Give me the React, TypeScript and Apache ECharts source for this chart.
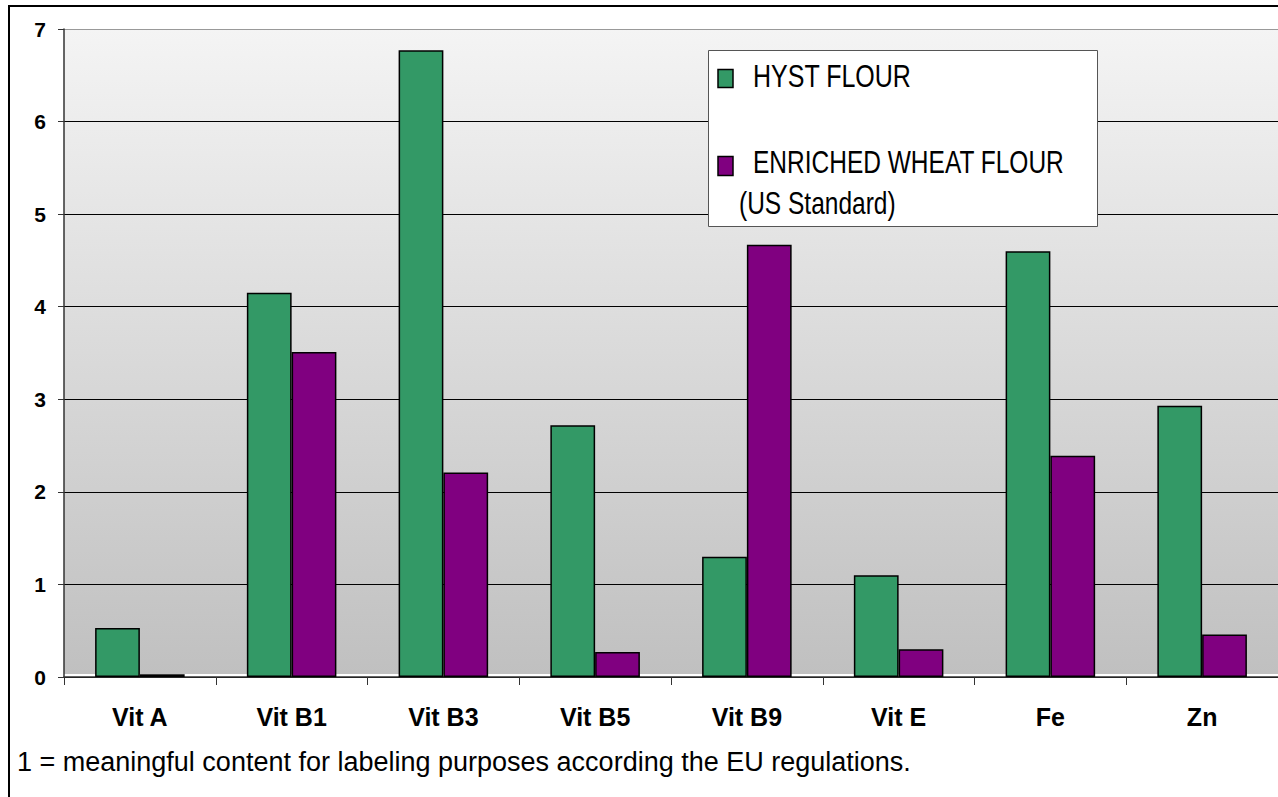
import React, { useEffect, useRef } from "react";
import * as echarts from "echarts";

const categories = ["Vit A", "Vit B1", "Vit B3", "Vit B5", "Vit B9", "Vit E", "Fe", "Zn"];
const hystFlour = [0.53, 4.15, 6.77, 2.72, 1.3, 1.1, 4.6, 2.93];
const enrichedWheat = [0.03, 3.51, 2.21, 0.27, 4.67, 0.3, 2.39, 0.46];
const yTicks = [0, 1, 2, 3, 4, 5, 6, 7];
const seriesNames = ["HYST FLOUR", "ENRICHED WHEAT FLOUR"];
const legendSubtitle = "(US Standard)";
const footnote = "1 = meaningful content for labeling purposes according the EU regulations.";

const GREEN = "#339966";
const PURPLE = "#800080";
const FONT = "'Liberation Sans', Arial, sans-serif";

export default function App() {
  const ref = useRef<HTMLDivElement>(null);
  useEffect(() => {
    if (!ref.current) return;
    const chart = echarts.init(ref.current, null, { renderer: "svg" });
    const yMax = yTicks[yTicks.length - 1];
    chart.setOption({
      animation: false,
      backgroundColor: "#ffffff",
      textStyle: { fontFamily: FONT },
      grid: {
        left: 64,
        right: -5,
        top: 29,
        bottom: 120,
        show: true,
        borderWidth: 0,
        backgroundColor: new echarts.graphic.LinearGradient(0, 0, 0, 1, [
          { offset: 0, color: "#f4f4f4" },
          { offset: 0.995, color: "#c0c0c0" },
          { offset: 0.996, color: "#ffffff" },
          { offset: 1, color: "#ffffff" },
        ]),
      },
      xAxis: {
        type: "category",
        data: categories,
        boundaryGap: true,
        axisLine: { show: true, lineStyle: { color: "#333", width: 1.5 } },
        axisTick: { show: true, length: 8, inside: false, lineStyle: { color: "#333" } },
        axisLabel: {
          color: "#000",
          fontWeight: "bold",
          fontSize: 25,
          fontFamily: FONT,
          margin: 27,
        },
        splitLine: { show: false },
      },
      yAxis: {
        type: "value",
        min: 0,
        max: yMax,
        interval: 1,
        axisLine: { show: true, lineStyle: { color: "#333", width: 1.5 } },
        axisTick: { show: true, length: 6, lineStyle: { color: "#333" } },
        axisLabel: {
          color: "#000",
          fontWeight: "bold",
          fontSize: 21,
          fontFamily: FONT,
          margin: 18,
        },
        splitLine: {
          show: true,
          lineStyle: {
            color: ["#000", "#000", "#000", "#000", "#000", "#000", "#000", "#999"],
            width: 1,
          },
        },
      },
      series: [
        {
          name: seriesNames[0],
          type: "bar",
          data: hystFlour,
          barGap: "0%",
          barCategoryGap: "41%",
          itemStyle: { color: GREEN, borderColor: "#000", borderWidth: 1.5 },
        },
        {
          name: seriesNames[1],
          type: "bar",
          data: enrichedWheat,
          barGap: "0%",
          barCategoryGap: "41%",
          itemStyle: { color: PURPLE, borderColor: "#000", borderWidth: 1.5 },
        },
      ],
      graphic: [
        {
          type: "rect",
          shape: { x: 9, y: 6, width: 1400, height: 1000 },
          style: { fill: "none", stroke: "#000", lineWidth: 2 },
          silent: true,
          z: 100,
        },
        {
          type: "rect",
          shape: { x: 708.5, y: 50.5, width: 389, height: 176 },
          style: { fill: "#fff", stroke: "#555", lineWidth: 1 },
          z: 50,
        },
        {
          type: "rect",
          shape: { x: 718, y: 69.5, width: 15, height: 18 },
          style: { fill: GREEN, stroke: "#000", lineWidth: 1.5 },
          z: 51,
        },
        {
          type: "rect",
          shape: { x: 718, y: 156.5, width: 15, height: 19 },
          style: { fill: PURPLE, stroke: "#000", lineWidth: 1.5 },
          z: 51,
        },
        {
          type: "text",
          x: 753,
          y: 75.5,
          scaleY: 1.27,
          z: 51,
          style: {
            text: seriesNames[0],
            fontSize: 25,
            fontFamily: FONT,
            fill: "#000",
            verticalAlign: "middle",
          },
        },
        {
          type: "text",
          x: 753,
          y: 162,
          scaleY: 1.27,
          z: 51,
          style: {
            text: seriesNames[1],
            fontSize: 24.5,
            fontFamily: FONT,
            fill: "#000",
            verticalAlign: "middle",
          },
        },
        {
          type: "text",
          x: 739,
          y: 203,
          scaleY: 1.27,
          z: 51,
          style: {
            text: legendSubtitle,
            fontSize: 24.5,
            fontFamily: FONT,
            fill: "#000",
            verticalAlign: "middle",
          },
        },
        {
          type: "text",
          x: 17,
          y: 762,
          z: 51,
          style: {
            text: footnote,
            fontSize: 27,
            fontFamily: FONT,
            fill: "#000",
            verticalAlign: "middle",
          },
        },
      ],
    });
    return () => chart.dispose();
  }, []);
  return (
    <div
      ref={ref}
      style={{ position: "absolute", left: 0, top: 0, width: 1278, height: 797, overflow: "hidden" }}
    />
  );
}
